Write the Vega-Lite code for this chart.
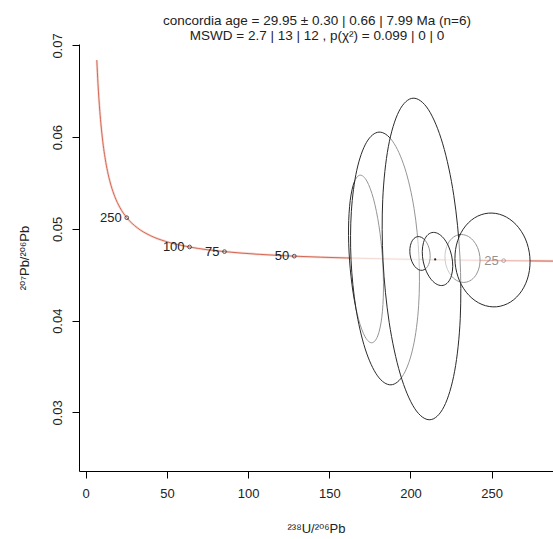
{
"$schema": "https://vega.github.io/schema/vega-lite/v6.json",
"width": 474, "height": 427,
"autosize": {"type": "none"},
"padding": {"left": 79, "top": 44, "right": 0, "bottom": 68},
"background": "white",
"config": {"view": {"stroke": null}, "font": "Liberation Sans, DejaVu Sans"},
"title": {"text": ["concordia age = 29.95 ± 0.30 | 0.66 | 7.99 Ma (n=6)", "MSWD = 2.7 | 13 | 12 , p(χ²) = 0.099 | 0 | 0"], "anchor": "middle", "frame": "group", "offset": 4, "fontSize": 13.5, "font": "Liberation Sans, DejaVu Sans", "fontWeight": "normal", "color": "#222", "lineHeight": 15, "dx": 1, "dy": 14},
"datasets": {
"curve": [
{"x": 6.8368, "y": 0.068407}, {"x": 7.5684, "y": 0.065829}, {"x": 8.7182, "y": 0.062784}, {"x": 10.2518, "y": 0.059928}, {"x": 12.3993, "y": 0.057245}, {"x": 13.8312, "y": 0.055965}, {"x": 15.6212, "y": 0.054725}, {"x": 17.9228, "y": 0.053523}, {"x": 20.9919, "y": 0.052357}, {"x": 25.2888, "y": 0.051226}, {"x": 31.7347, "y": 0.05013}, {"x": 39.7923, "y": 0.049277}, {"x": 49.0894, "y": 0.048651}, {"x": 63.9656, "y": 0.048036}, {"x": 85.4526, "y": 0.047532}, {"x": 106.9416, "y": 0.047234}, {"x": 128.4274, "y": 0.047036}, {"x": 160.6606, "y": 0.04684}, {"x": 214.3807, "y": 0.046645}, {"x": 257.36, "y": 0.046547}, {"x": 292.52, "y": 0.046489}
],
"ages": [
{"age": "250", "x": 25.2888, "y": 0.051226}, {"age": "100", "x": 63.9656, "y": 0.048036}, {"age": "75", "x": 85.4526, "y": 0.047532}, {"age": "50", "x": 128.4274, "y": 0.047036}, {"age": "25", "x": 257.36, "y": 0.046547}
],
"ell": [
{"id": "a1", "k": 0, "x": 176.21, "y": 0.037596}, {"id": "a1", "k": 1, "x": 179.82, "y": 0.038339}, {"id": "a1", "k": 2, "x": 182.32, "y": 0.040359}, {"id": "a1", "k": 3, "x": 183.35, "y": 0.04335}, {"id": "a1", "k": 4, "x": 182.74, "y": 0.046855}, {"id": "a1", "k": 5, "x": 180.59, "y": 0.050342}, {"id": "a1", "k": 6, "x": 177.22, "y": 0.053277}, {"id": "a1", "k": 7, "x": 173.15, "y": 0.055217}, {"id": "a1", "k": 8, "x": 168.99, "y": 0.055864}, {"id": "a1", "k": 9, "x": 165.38, "y": 0.055121}, {"id": "a1", "k": 10, "x": 162.88, "y": 0.053101}, {"id": "a1", "k": 11, "x": 161.85, "y": 0.05011}, {"id": "a1", "k": 12, "x": 162.46, "y": 0.046605}, {"id": "a1", "k": 13, "x": 164.61, "y": 0.043118}, {"id": "a1", "k": 14, "x": 167.98, "y": 0.040183}, {"id": "a1", "k": 15, "x": 172.05, "y": 0.038243},
{"id": "a2", "k": 0, "x": 233.57, "y": 0.044183}, {"id": "a2", "k": 1, "x": 237.55, "y": 0.044457}, {"id": "a2", "k": 2, "x": 240.69, "y": 0.045086}, {"id": "a2", "k": 3, "x": 242.51, "y": 0.045973}, {"id": "a2", "k": 4, "x": 242.73, "y": 0.046984}, {"id": "a2", "k": 5, "x": 241.32, "y": 0.047965}, {"id": "a2", "k": 6, "x": 238.5, "y": 0.048766}, {"id": "a2", "k": 7, "x": 234.69, "y": 0.049265}, {"id": "a2", "k": 8, "x": 230.47, "y": 0.049387}, {"id": "a2", "k": 9, "x": 226.49, "y": 0.049113}, {"id": "a2", "k": 10, "x": 223.35, "y": 0.048484}, {"id": "a2", "k": 11, "x": 221.53, "y": 0.047597}, {"id": "a2", "k": 12, "x": 221.31, "y": 0.046586}, {"id": "a2", "k": 13, "x": 222.72, "y": 0.045605}, {"id": "a2", "k": 14, "x": 225.54, "y": 0.044804}, {"id": "a2", "k": 15, "x": 229.35, "y": 0.044305},
{"id": "a3", "k": 0, "x": 187.97, "y": 0.033013}, {"id": "a3", "k": 1, "x": 195.69, "y": 0.034128}, {"id": "a3", "k": 2, "x": 201.68, "y": 0.03717}, {"id": "a3", "k": 3, "x": 205.02, "y": 0.041675}, {"id": "a3", "k": 4, "x": 205.21, "y": 0.046959}, {"id": "a3", "k": 5, "x": 202.21, "y": 0.052217}, {"id": "a3", "k": 6, "x": 196.49, "y": 0.056646}, {"id": "a3", "k": 7, "x": 188.91, "y": 0.059576}, {"id": "a3", "k": 8, "x": 180.63, "y": 0.060557}, {"id": "a3", "k": 9, "x": 172.91, "y": 0.059442}, {"id": "a3", "k": 10, "x": 166.92, "y": 0.0564}, {"id": "a3", "k": 11, "x": 163.58, "y": 0.051895}, {"id": "a3", "k": 12, "x": 163.39, "y": 0.046611}, {"id": "a3", "k": 13, "x": 166.39, "y": 0.041353}, {"id": "a3", "k": 14, "x": 172.11, "y": 0.036924}, {"id": "a3", "k": 15, "x": 179.69, "y": 0.033994},
{"id": "a4", "k": 0, "x": 211.95, "y": 0.029207}, {"id": "a4", "k": 1, "x": 220.62, "y": 0.030625}, {"id": "a4", "k": 2, "x": 227.18, "y": 0.034494}, {"id": "a4", "k": 3, "x": 230.63, "y": 0.040226}, {"id": "a4", "k": 4, "x": 230.45, "y": 0.046949}, {"id": "a4", "k": 5, "x": 226.67, "y": 0.053638}, {"id": "a4", "k": 6, "x": 219.85, "y": 0.059276}, {"id": "a4", "k": 7, "x": 211.05, "y": 0.063003}, {"id": "a4", "k": 8, "x": 201.59, "y": 0.064253}, {"id": "a4", "k": 9, "x": 192.92, "y": 0.062835}, {"id": "a4", "k": 10, "x": 186.36, "y": 0.058966}, {"id": "a4", "k": 11, "x": 182.91, "y": 0.053234}, {"id": "a4", "k": 12, "x": 183.09, "y": 0.046511}, {"id": "a4", "k": 13, "x": 186.87, "y": 0.039822}, {"id": "a4", "k": 14, "x": 193.69, "y": 0.034184}, {"id": "a4", "k": 15, "x": 202.49, "y": 0.030457},
{"id": "a5", "k": 0, "x": 207.31, "y": 0.045495}, {"id": "a5", "k": 1, "x": 209.53, "y": 0.045693}, {"id": "a5", "k": 2, "x": 211.2, "y": 0.046139}, {"id": "a5", "k": 3, "x": 212.05, "y": 0.046768}, {"id": "a5", "k": 4, "x": 211.95, "y": 0.047481}, {"id": "a5", "k": 5, "x": 210.93, "y": 0.048172}, {"id": "a5", "k": 6, "x": 209.13, "y": 0.048735}, {"id": "a5", "k": 7, "x": 206.84, "y": 0.049083}, {"id": "a5", "k": 8, "x": 204.39, "y": 0.049165}, {"id": "a5", "k": 9, "x": 202.17, "y": 0.048967}, {"id": "a5", "k": 10, "x": 200.51, "y": 0.048521}, {"id": "a5", "k": 11, "x": 199.66, "y": 0.047892}, {"id": "a5", "k": 12, "x": 199.75, "y": 0.047179}, {"id": "a5", "k": 13, "x": 200.77, "y": 0.046488}, {"id": "a5", "k": 14, "x": 202.57, "y": 0.045925}, {"id": "a5", "k": 15, "x": 204.87, "y": 0.045577},
{"id": "a6", "k": 0, "x": 253.01, "y": 0.041518}, {"id": "a6", "k": 1, "x": 261.62, "y": 0.042042}, {"id": "a6", "k": 2, "x": 268.54, "y": 0.043265}, {"id": "a6", "k": 3, "x": 272.7, "y": 0.044997}, {"id": "a6", "k": 4, "x": 273.49, "y": 0.046977}, {"id": "a6", "k": 5, "x": 270.78, "y": 0.048903}, {"id": "a6", "k": 6, "x": 264.97, "y": 0.050481}, {"id": "a6", "k": 7, "x": 256.96, "y": 0.051472}, {"id": "a6", "k": 8, "x": 247.97, "y": 0.051724}, {"id": "a6", "k": 9, "x": 239.36, "y": 0.0512}, {"id": "a6", "k": 10, "x": 232.45, "y": 0.049977}, {"id": "a6", "k": 11, "x": 228.28, "y": 0.048245}, {"id": "a6", "k": 12, "x": 227.49, "y": 0.046265}, {"id": "a6", "k": 13, "x": 230.2, "y": 0.044339}, {"id": "a6", "k": 14, "x": 236.01, "y": 0.042761}, {"id": "a6", "k": 15, "x": 244.02, "y": 0.04177},
{"id": "a7", "k": 0, "x": 220.08, "y": 0.043852}, {"id": "a7", "k": 1, "x": 223.16, "y": 0.044197}, {"id": "a7", "k": 2, "x": 225.24, "y": 0.044927}, {"id": "a7", "k": 3, "x": 226.02, "y": 0.045932}, {"id": "a7", "k": 4, "x": 225.36, "y": 0.047058}, {"id": "a7", "k": 5, "x": 223.38, "y": 0.048134}, {"id": "a7", "k": 6, "x": 220.36, "y": 0.048997}, {"id": "a7", "k": 7, "x": 216.78, "y": 0.049515}, {"id": "a7", "k": 8, "x": 213.18, "y": 0.049608}, {"id": "a7", "k": 9, "x": 210.1, "y": 0.049263}, {"id": "a7", "k": 10, "x": 208.02, "y": 0.048533}, {"id": "a7", "k": 11, "x": 207.24, "y": 0.047528}, {"id": "a7", "k": 12, "x": 207.9, "y": 0.046402}, {"id": "a7", "k": 13, "x": 209.88, "y": 0.045326}, {"id": "a7", "k": 14, "x": 212.9, "y": 0.044463}, {"id": "a7", "k": 15, "x": 216.48, "y": 0.043945}
],
"cage": [{"x": 215.2, "y": 0.04668}]
},
"layer": [
{"data": {"name": "curve"}, "mark": {"type": "line", "clip": true, "interpolate": "monotone", "stroke": "#f6dcd6", "strokeWidth": 2.5},
 "encoding": {
  "x": {"field": "x", "type": "quantitative", "scale": {"domain": [-4.13, 287.75], "nice": false, "zero": false},
   "axis": {"values": [0, 50, 100, 150, 200, 250], "grid": false, "tickSize": 7, "tickColor": "black", "domainColor": "black", "labelColor": "#222", "labelFontSize": 13, "labelPadding": 9, "labelFlush": false, "title": "²³⁸U/²⁰⁶Pb", "titleFont": "Liberation Sans, DejaVu Sans", "titleFontSize": 13, "titleFontWeight": "normal", "titleColor": "#222", "titlePadding": 22}},
  "y": {"field": "y", "type": "quantitative", "scale": {"domain": [0.02362, 0.07016], "nice": false, "zero": false},
   "axis": {"values": [0.03, 0.04, 0.05, 0.06, 0.07], "format": ".2f", "grid": false, "tickSize": 7, "tickColor": "black", "domainColor": "black", "labelColor": "#222", "labelFontSize": 13, "labelPadding": 8, "labelAngle": -90, "labelAlign": "center", "labelBaseline": "bottom", "labelFlush": false, "title": "²⁰⁷Pb/²⁰⁶Pb", "titleFont": "Liberation Sans, DejaVu Sans", "titleFontSize": 13, "titleFontWeight": "normal", "titleColor": "#222", "titlePadding": 20}}
 }},
{"data": {"name": "curve"}, "mark": {"type": "line", "clip": true, "interpolate": "monotone", "stroke": "#cf5a45", "strokeWidth": 0.9},
 "encoding": {"x": {"field": "x", "type": "quantitative"}, "y": {"field": "y", "type": "quantitative"}}},
{"mark": {"type": "rule", "color": "black", "strokeWidth": 1}, "encoding": {"y": {"datum": 0.07016}}},
{"data": {"name": "ages"}, "mark": {"type": "point", "shape": "circle", "filled": false, "size": 14, "stroke": "#333", "strokeWidth": 0.8, "opacity": 1},
 "encoding": {"x": {"field": "x", "type": "quantitative"}, "y": {"field": "y", "type": "quantitative"}}},
{"data": {"name": "ages"}, "mark": {"type": "text", "align": "right", "baseline": "middle", "dx": -5, "fontSize": 13, "color": "#222"},
 "encoding": {"x": {"field": "x", "type": "quantitative"}, "y": {"field": "y", "type": "quantitative"}, "text": {"field": "age"}}},
{"data": {"name": "ell"}, "mark": {"type": "line", "interpolate": "cardinal-closed", "fill": "white", "fillOpacity": 0.5, "stroke": "#2a2a2a", "strokeWidth": 1},
 "encoding": {"x": {"field": "x", "type": "quantitative"}, "y": {"field": "y", "type": "quantitative"}, "detail": {"field": "id"}, "order": {"field": "k", "type": "quantitative"}}},
{"data": {"name": "cage"}, "mark": {"type": "point", "shape": "circle", "filled": true, "size": 5, "color": "#222", "opacity": 1},
 "encoding": {"x": {"field": "x", "type": "quantitative"}, "y": {"field": "y", "type": "quantitative"}}}
]
}
